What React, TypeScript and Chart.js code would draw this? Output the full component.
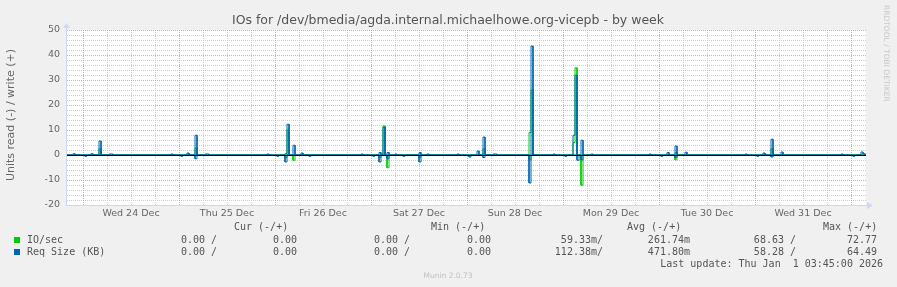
import React, { useEffect, useRef } from 'react';
import { Chart, registerables } from 'chart.js';

Chart.register(...registerables);

// ---- axis / tick data ----
const dayLabels = ['Wed 24 Dec', 'Thu 25 Dec', 'Fri 26 Dec', 'Sat 27 Dec', 'Sun 28 Dec', 'Mon 29 Dec', 'Tue 30 Dec', 'Wed 31 Dec'];
const dayLabelHours = [12, 36, 60, 84, 108, 132, 156, 180]; // hours since Wed 24 Dec 00:00 (label at noon)
const yMin = -20;
const yMax = 50;
const X_MIN = -4; // Tue 23 Dec 20:00
const X_MAX = 195.75; // Thu Jan 1 03:45

// ---- series: 30-minute samples, start hour since Wed 24 Dec 00:00 ----
const reqWriteHours = [-2.5, 2, 4, 6.5, 7, 22, 26, 28, 30.5, 31, 46, 50.5, 51, 52.5, 54.5, 69.5, 74, 75, 76, 78, 84, 86, 93.5, 98.5, 100, 102.5, 103, 112, 117.5, 122.5, 123, 124.5, 127, 141.5, 146, 148, 150.5, 165.5, 170, 172, 174.5, 189.5, 194.5, 195];
const reqWriteValues = [0.5, 0.5, 5.6, 0.4, 0.4, 0.4, 0.8, 7.9, 0.4, 0.4, 0.4, 0.5, 12.3, 3.9, 0.8, 0.4, 1.0, 11.2, 1.0, 0.4, 1.0, 0.4, 0.4, 1.6, 7.2, 0.4, 0.4, 43.6, 0.4, 7.9, 31.9, 5.9, 0.4, 0.4, 1.0, 3.6, 1.1, 0.4, 0.8, 6.3, 1.2, 0.4, 1.2, 0.5];
const reqReadHours = [0.5, 24.5, 28, 48.5, 50.5, 56.5, 72.5, 74, 76, 80, 84, 96.5, 100, 111.5, 120.5, 123.5, 124.5, 144.5, 148, 168.5, 172, 192.5];
const reqReadValues = [0.5, 0.5, 1.5, 0.5, 2.8, 0.5, 0.5, 2.8, 1.5, 0.5, 2.8, 0.8, 1.0, 11.2, 0.5, 2.1, 2.0, 0.5, 1.0, 0.5, 0.8, 0.5];
const ioWriteHours = [4, 28, 51, 75, 100, 111.5, 112, 122.5, 123, 148, 172];
const ioWriteValues = [2.5, 2.8, 10, 11.6, 2.5, 9, 26, 5, 34.9, 1, 2.5];
const ioReadHours = [50.5, 52.5, 74, 76, 84, 111.5, 124.5, 148];
const ioReadValues = [1, 2.1, 1, 5.1, 1, 2, 12.1, 1.9];

// ---- legend table ----
const legendNames = ['IO/sec', 'Req Size (KB)'];
const legendColors = ['#00cc00', '#0066b3'];
const legendHeaders = ['Cur (-/+)', 'Min (-/+)', 'Avg (-/+)', 'Max (-/+)'];
const curValues = [['0.00 /', '0.00'], ['0.00 /', '0.00']];
const minValues = [['0.00 /', '0.00'], ['0.00 /', '0.00']];
const avgValues = [['59.33m/', '261.74m'], ['112.38m/', '471.80m']];
const maxValues = [['68.63 /', '72.77'], ['58.28 /', '64.49']];
const titleText = 'IOs for /dev/bmedia/agda.internal.michaelhowe.org-vicepb - by week';
const yTitle = 'Units read (-) / write (+)';
const lastUpdate = 'Last update: Thu Jan  1 03:45:00 2026';
const footer = 'Munin 2.0.73';
const watermark = 'RRDTOOL / TOBI OETIKER';

const GREEN = '#00cc00';
const BLUE = '#0066b3';
const FONT = '"DejaVu Sans", sans-serif';
const MONO = '"DejaVu Sans Mono", monospace';

function buildSteps(hours: number[], values: number[], sign: number) {
  const pts: { x: number; y: number }[] = [{ x: X_MIN, y: 0 }];
  for (let i = 0; i < hours.length; i++) {
    const t = hours[i];
    const v = sign * values[i];
    const contiguous = i > 0 && hours[i - 1] + 0.5 === t;
    if (!contiguous) pts.push({ x: t, y: 0 });
    pts.push({ x: t, y: v });
    pts.push({ x: t + 0.5, y: v });
    const nextContig = i < hours.length - 1 && hours[i + 1] === t + 0.5;
    if (!nextContig) pts.push({ x: t + 0.5, y: 0 });
  }
  pts.push({ x: X_MAX, y: 0 });
  return pts;
}

const muninPlugin = {
  id: 'munin',
  beforeDraw(chart: any) {
    const { ctx, chartArea } = chart;
    ctx.save();
    ctx.fillStyle = '#f0f0f0';
    ctx.fillRect(0, 0, chart.width, chart.height);
    ctx.fillStyle = '#ffffff';
    ctx.fillRect(chartArea.left, chartArea.top, chartArea.right - chartArea.left, chartArea.bottom - chartArea.top);
    ctx.restore();
  },
  beforeDatasetsDraw(chart: any) {
    const { ctx, chartArea } = chart;
    const xs = chart.scales.x;
    const ys = chart.scales.y;
    const { left, right, top, bottom } = chartArea;
    ctx.save();
    ctx.lineWidth = 1;
    ctx.setLineDash([1, 1]);
    const passes = [false, true];
    for (const major of passes) {
      ctx.strokeStyle = major ? 'rgba(230,150,150,0.85)' : 'rgba(200,200,200,0.9)';
      ctx.beginPath();
      for (let v = yMin; v <= yMax; v += 2) {
        if ((v % 10 === 0) !== major) continue;
        const y = Math.round(ys.getPixelForValue(v)) + 0.5;
        ctx.moveTo(left, y);
        ctx.lineTo(right, y);
      }
      for (let h = 0; h <= X_MAX; h += 6) {
        if ((h % 24 === 0) !== major) continue;
        const x = Math.round(xs.getPixelForValue(h)) + 0.5;
        ctx.moveTo(x, top);
        ctx.lineTo(x, bottom);
      }
      ctx.stroke();
    }
    ctx.restore();
  },
  afterDatasetsDraw(chart: any) {
    const { ctx, chartArea } = chart;
    const ys = chart.scales.y;
    const { left, right, top, bottom } = chartArea;
    ctx.save();
    ctx.setLineDash([]);
    ctx.lineWidth = 1;
    ctx.strokeStyle = '#000000';
    const y0 = Math.round(ys.getPixelForValue(0)) + 0.5;
    ctx.beginPath();
    ctx.moveTo(left, y0);
    ctx.lineTo(right, y0);
    ctx.stroke();

    // axes
    const ax = '#cfd6f8';
    ctx.strokeStyle = ax;
    ctx.fillStyle = ax;
    const axX = left - 0.5;
    const axY = bottom + 0.5;
    ctx.beginPath();
    ctx.moveTo(axX, axY);
    ctx.lineTo(axX, top - 3);
    ctx.moveTo(left - 1, axY);
    ctx.lineTo(right + 2, axY);
    ctx.stroke();
    ctx.beginPath();
    ctx.moveTo(axX, top - 7);
    ctx.lineTo(axX - 3.5, top - 2);
    ctx.lineTo(axX + 3.5, top - 2);
    ctx.closePath();
    ctx.fill();
    ctx.beginPath();
    ctx.moveTo(right + 7, axY);
    ctx.lineTo(right + 1, axY - 3.5);
    ctx.lineTo(right + 1, axY + 3.5);
    ctx.closePath();
    ctx.fill();
    ctx.restore();
  },
  afterDraw(chart: any) {
    const { ctx } = chart;
    ctx.save();
    // title
    ctx.fillStyle = '#555555';
    ctx.font = `12.5px ${FONT}`;
    ctx.textAlign = 'center';
    ctx.textBaseline = 'alphabetic';
    ctx.fillText(titleText, 448, 24);

    // y title
    ctx.save();
    ctx.translate(11, 115);
    ctx.rotate(-Math.PI / 2);
    ctx.font = `11px ${FONT}`;
    ctx.fillStyle = '#666666';
    ctx.textAlign = 'center';
    ctx.textBaseline = 'middle';
    ctx.fillText(yTitle, 0, 0);
    ctx.restore();

    // watermark
    ctx.save();
    ctx.translate(885.5, 5);
    ctx.rotate(Math.PI / 2);
    ctx.font = `7.5px ${FONT}`;
    ctx.fillStyle = '#c8c8c8';
    ctx.textAlign = 'left';
    ctx.textBaseline = 'middle';
    ctx.fillText(watermark, 0, 0);
    ctx.restore();

    // legend
    ctx.font = `10px ${MONO}`;
    ctx.fillStyle = '#555555';
    ctx.textBaseline = 'middle';
    ctx.textAlign = 'left';
    const headerX = [234, 431, 627, 823];
    legendHeaders.forEach((h, i) => ctx.fillText(h, headerX[i], 227));
    const rowY = [240, 252];
    const colEnds = [217, 297, 410, 491, 603, 690, 796, 877];
    legendNames.forEach((name, r) => {
      ctx.fillStyle = legendColors[r];
      ctx.fillRect(14, rowY[r] - 3, 6, 6);
      ctx.fillStyle = '#555555';
      ctx.textAlign = 'left';
      ctx.fillText(name, 27, rowY[r]);
      const cells = [...curValues[r], ...minValues[r], ...avgValues[r], ...maxValues[r]];
      ctx.textAlign = 'right';
      cells.forEach((c, i) => ctx.fillText(c, colEnds[i], rowY[r]));
    });
    ctx.textAlign = 'right';
    ctx.fillText(lastUpdate, 883, 264);

    ctx.font = `7.5px ${FONT}`;
    ctx.fillStyle = '#c0c0c0';
    ctx.textAlign = 'center';
    ctx.fillText(footer, 448, 276);
    ctx.restore();
  },
};

export default function App() {
  const ref = useRef<HTMLCanvasElement | null>(null);
  useEffect(() => {
    if (!ref.current) return;
    const lineDs = (label: string, data: any, color: string, order: number) => ({
      label,
      data,
      borderColor: color,
      backgroundColor: color,
      borderWidth: 1,
      pointRadius: 0,
      tension: 0,
      fill: false,
      order,
    });
    const chart = new Chart(ref.current, {
      type: 'line',
      data: {
        datasets: [
          lineDs('Req Size (KB) write', buildSteps(reqWriteHours, reqWriteValues, 1), BLUE, 0),
          lineDs('Req Size (KB) read', buildSteps(reqReadHours, reqReadValues, -1), BLUE, 1),
          lineDs('IO/sec write', buildSteps(ioWriteHours, ioWriteValues, 1), GREEN, 2),
          lineDs('IO/sec read', buildSteps(ioReadHours, ioReadValues, -1), GREEN, 3),
        ],
      },
      options: {
        animation: false,
        responsive: false,
        devicePixelRatio: 1,
        events: [],
        layout: { padding: { left: 0, right: 31, top: 30, bottom: 62 } },
        plugins: { legend: { display: false }, tooltip: { enabled: false }, title: { display: false } },
        scales: {
          x: {
            type: 'linear',
            min: X_MIN,
            max: X_MAX,
            grid: { display: false, drawTicks: false },
            border: { display: false },
            afterBuildTicks: (s: any) => {
              s.ticks = dayLabelHours.map((v) => ({ value: v }));
            },
            afterFit: (s: any) => {
              s.height = 20;
            },
            ticks: {
              autoSkip: false,
              maxRotation: 0,
              minRotation: 0,
              padding: 3,
              color: '#666666',
              font: { family: FONT, size: 9.5 },
              callback: (_v: any, i: number) => dayLabels[i] ?? '',
            },
          },
          y: {
            min: yMin,
            max: yMax,
            grid: { display: false, drawTicks: false },
            border: { display: false },
            afterFit: (s: any) => {
              s.width = 67;
            },
            ticks: {
              stepSize: 10,
              padding: 7,
              color: '#666666',
              font: { family: FONT, size: 9.5 },
            },
          },
        },
      },
      plugins: [muninPlugin],
    } as any);
    return () => chart.destroy();
  }, []);
  return (
    <div style={{ position: 'fixed', left: 0, top: 0, width: 897, height: 287, background: '#f0f0f0' }}>
      <canvas ref={ref} width={897} height={287} style={{ display: 'block', width: 897, height: 287 }} />
    </div>
  );
}
